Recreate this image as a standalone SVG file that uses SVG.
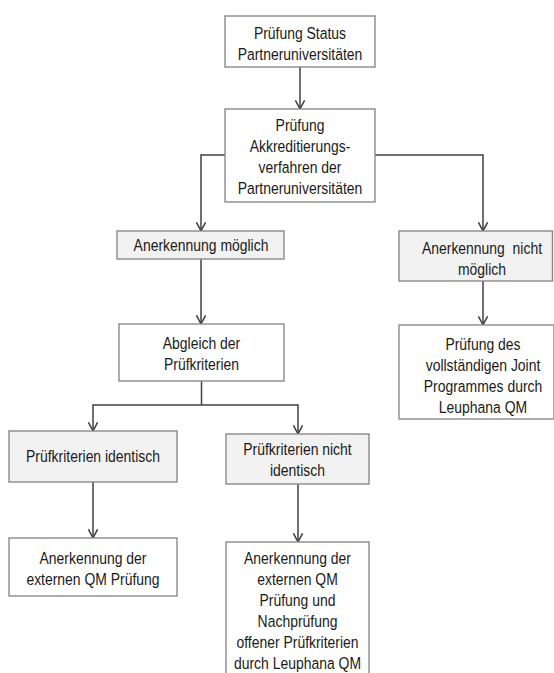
<svg xmlns="http://www.w3.org/2000/svg" width="554" height="673" viewBox="0 0 554 673">
<defs>
<style>
.box{fill:#ffffff;stroke:#8a8a8a;stroke-width:1.4}
.grey{fill:#f2f2f2;stroke:#8a8a8a;stroke-width:1.4}
text{font-family:"Liberation Sans",Arial,sans-serif;font-size:16.5px;fill:#1a1a1a;text-anchor:middle}
.con{fill:none;stroke:#404040;stroke-width:1.5}
</style>
<marker id="arr" viewBox="0 0 10 10" refX="9.3" refY="5" markerWidth="10" markerHeight="10" orient="auto" markerUnits="userSpaceOnUse">
<path d="M0.6,0.4 L9.2,5 L0.6,9.6" fill="none" stroke="#404040" stroke-width="1.5"/>
</marker>
</defs>
<rect width="554" height="673" fill="#ffffff"/>
<g id="connectors">
<path class="con" d="M300,67 V109" marker-end="url(#arr)"/>
<path class="con" d="M225,155 H201 V231" marker-end="url(#arr)"/>
<path class="con" d="M375,155 H483 V231" marker-end="url(#arr)"/>
<path class="con" d="M201,259 V324" marker-end="url(#arr)"/>
<path class="con" d="M483,281 V325" marker-end="url(#arr)"/>
<path class="con" d="M201.5,381 V405"/>
<path class="con" d="M201.5,405 H93 V431" marker-end="url(#arr)"/>
<path class="con" d="M201.5,405 H298 V434" marker-end="url(#arr)"/>
<path class="con" d="M93,482 V538" marker-end="url(#arr)"/>
<path class="con" d="M298,484 V542" marker-end="url(#arr)"/>
</g>
<g id="n1">
<rect class="box" x="225" y="16" width="150" height="51"/>
<g transform="translate(300 0) scale(0.845 1)">
<text x="0" y="39">Prüfung Status</text>
<text x="0" y="60">Partneruniversitäten</text>
</g>
</g>
<g id="n2">
<rect class="box" x="225" y="109" width="150" height="93"/>
<g transform="translate(300 0) scale(0.845 1)">
<text x="0" y="131">Prüfung</text>
<text x="0" y="152">Akkreditierungs-</text>
<text x="0" y="173">verfahren der</text>
<text x="0" y="194">Partneruniversitäten</text>
</g>
</g>
<g id="n3">
<rect class="grey" x="117" y="231" width="167" height="28"/>
<g transform="translate(201 0) scale(0.845 1)">
<text x="0" y="251">Anerkennung möglich</text>
</g>
</g>
<g id="n4">
<rect class="grey" x="399" y="231" width="153.5" height="50"/>
<g transform="translate(482 0) scale(0.845 1)">
<text x="0" y="254" xml:space="preserve">Anerkennung  nicht</text>
<text x="0" y="275">möglich</text>
</g>
</g>
<g id="n5">
<rect class="box" x="399" y="325" width="155" height="94"/>
<g transform="translate(483 0) scale(0.845 1)">
<text x="0" y="350">Prüfung des</text>
<text x="0" y="371">vollständigen Joint</text>
<text x="0" y="392">Programmes durch</text>
<text x="0" y="413">Leuphana QM</text>
</g>
</g>
<g id="n6">
<rect class="box" x="119" y="324" width="165" height="57"/>
<g transform="translate(201.5 0) scale(0.845 1)">
<text x="0" y="349">Abgleich der</text>
<text x="0" y="370">Prüfkriterien</text>
</g>
</g>
<g id="n7">
<rect class="grey" x="9" y="431" width="168" height="51"/>
<g transform="translate(93 0) scale(0.845 1)">
<text x="0" y="462">Prüfkriterien identisch</text>
</g>
</g>
<g id="n8">
<rect class="grey" x="226" y="434" width="143" height="50"/>
<g transform="translate(297.5 0) scale(0.845 1)">
<text x="0" y="455">Prüfkriterien nicht</text>
<text x="0" y="476">identisch</text>
</g>
</g>
<g id="n9">
<rect class="box" x="9" y="538" width="168" height="58"/>
<g transform="translate(93 0) scale(0.845 1)">
<text x="0" y="564">Anerkennung der</text>
<text x="0" y="585">externen QM Prüfung</text>
</g>
</g>
<g id="n10">
<rect class="box" x="226" y="542" width="143" height="140"/>
<g transform="translate(297.5 0) scale(0.845 1)">
<text x="0" y="564">Anerkennung der</text>
<text x="0" y="585">externen QM</text>
<text x="0" y="606">Prüfung und</text>
<text x="0" y="627">Nachprüfung</text>
<text x="0" y="648">offener Prüfkriterien</text>
<text x="0" y="669">durch Leuphana QM</text>
</g>
</g>
</svg>
